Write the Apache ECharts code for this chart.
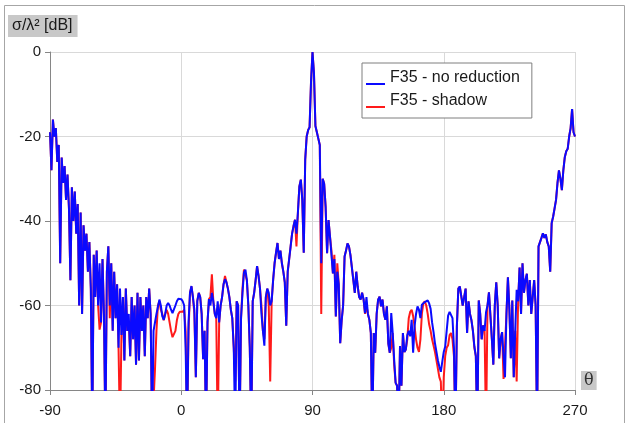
<!DOCTYPE html>
<html>
<head>
<meta charset="utf-8">
<script src="https://cdn.jsdelivr.net/npm/echarts@6/dist/echarts.min.js"></script>
<style>
  html, body { margin: 0; padding: 0; background: #ffffff; }
  #chart { width: 629px; height: 423px; }
</style>
</head>
<body>
<div id="chart"></div>
<script>
// ---- data ----
const thetaStart = -90;   // first angle, degrees
const thetaStep = 1;      // angular step, degrees
const xTicks = [-90, 0, 90, 180, 270];
const yTicks = [-80, -60, -40, -20, 0];
const seriesNames = ['F35 - no reduction', 'F35 - shadow'];

// sigma/lambda^2 [dB], theta = -90 .. 270 ; values below -80 are off-scale dips
const noReduction = [
  -19,-28,-16,-20,-18,-26,-22,-50,-25,-31,
  -27,-35,-29,-37,-54,-32,-40,-33,-43,-36,
  -60,-38,-62,-41,-47,-43,-52,-45,-56,-90,
  -48,-58,-47,-60,-50,-64,-49,-62,-90,-52,
  -46,-60,-50,-66,-52,-63,-55,-70,-56,-67,
  -58,-73,-56,-66,-62,-72,-58,-68,-60,-74,
  -57,-73,-58,-66,-60,-72,-58,-63,-56,-62,
  -90,-66,-64,-62,-62,-58.6,-60,-62.5,-63.4,-62,
  -60,-59.4,-60,-61,-61.8,-61.5,-60,-59,-58.4,-58.3,
  -58.5,-59,-60,-70,-90,-64,-57,-55.4,-58,-61,
  -77,-59,-57,-58,-62,-72.7,-66,-90,-64,-58.5,
  -60,-57,-59,-62,-63,-59,-64,-60,-58,-55,
  -53.8,-54.5,-56,-58,-61,-63,-70,-90,-59,-60,
  -90,-63,-57,-52.2,-51.5,-54,-60,-70,-90,-59,
  -57,-54,-50.7,-53,-56,-62,-66,-69.5,-58,-56,
  -57,-60,-59,-54,-50,-47.5,-45.2,-49,-47,-50,
  -52,-54.5,-64.8,-52,-49,-46,-43,-41.2,-39.7,-43,
  -38,-31.8,-30.2,-35,-47.5,-25.5,-20,-18.5,-17.8,-7,
  0,-5,-17.5,-19,-20.5,-22,-50,-30,-31.2,-36.7,
  -47.6,-39.8,-43.7,-48,-52.4,-49,-62.6,-52,-55,-68.9,
  -63.5,-60,-48.4,-47,-45.3,-46,-48,-51,-54,-57,
  -52,-55.5,-58,-58.6,-57,-58.5,-61.8,-58,-62,-63.4,
  -66.5,-90,-66.5,-71.2,-62,-58.6,-57.9,-60.2,-58.6,-62,
  -63.4,-60.2,-69,-71.2,-61.8,-66.5,-72.8,-78.3,-79,-90,
  -69.6,-79,-66.5,-71,-70.4,-67,-66,-67.3,-63.4,-71.2,
  -64.9,-62,-60.2,-61,-63,-59.8,-60,-59.2,-59,-58.8,
  -59.5,-60.8,-64,-66.3,-69,-71,-73,-74.5,-75.7,-73.3,
  -71,-69.7,-66,-62.4,-61.5,-61.2,-63,-70,-90,-65,
  -56,-55.5,-55.3,-60,-58,-56,-66.5,-59,-62,-63.5,
  -66,-69.7,-72,-90,-58.8,-62,-68,-64.7,-66,-61.6,
  -60,-56.9,-62.4,-68,-74,-60,-54.5,-60,-72.5,-68,
  -66.3,-72,-77,-62,-53.3,-60.8,-72.5,-58.8,-77,-66,
  -56.3,-59,-51,-62,-50,-57,-54,-52.5,-60,-54,
  -62,-58,-54,-60,-90,-46,-46,-44,-42.9,-44,
  -43.2,-45,-46,-52,-40.5,-39,-37,-35,-31,-28,
  -30,-32.7,-28,-24.9,-23.5,-22.9,-20,-18,-13.5,-19,
  -20
];

const shadow = [
  -19,-28,-16,-20,-18,-26,-22,-50,-25,-31,
  -27,-35,-29,-37,-54,-32,-40,-33,-43,-36,
  -60,-38,-62,-41,-47,-43,-52,-45,-56,-90,
  -48,-58,-47,-60,-65.7,-64,-49,-62,-90,-52,
  -46,-63,-50,-66,-52,-63,-55,-70,-90,-67,
  -58,-73,-56,-66,-64,-72,-58,-68,-60,-74,
  -57,-73,-58,-66,-60,-72,-58,-63,-56,-62,
  -90,-90,-75,-66,-60,-59,-61,-62,-63.5,-62,
  -61,-62,-64,-66,-67.5,-67.5,-66,-63.5,-62,-61.5,
  -61.8,-61.5,-61,-66,-90,-66,-57,-55.5,-58,-62,
  -77,-58.9,-57,-58,-62,-72.7,-66,-90,-64,-58.5,
  -58,-52.6,-59,-62,-63,-90,-64,-60,-58,-55,
  -53,-52.6,-56,-58,-61,-63,-70,-78,-59,-60,
  -90,-63,-56,-51.5,-51.5,-54,-60,-70,-90,-59,
  -57,-54,-50.7,-53,-56,-60,-66,-68,-58,-56,
  -60,-78,-59,-54,-50,-47.5,-45.2,-49,-47,-50,
  -52,-54.5,-64.8,-52,-49,-46,-43,-41.2,-39.7,-46,
  -38,-31.8,-30.2,-35,-47.5,-25.5,-20,-18.5,-17.8,-7,
  0,-5,-17.5,-19,-20.5,-22,-62,-30,-31.2,-36.7,
  -47.6,-39.8,-43.7,-47,-52.4,-48,-62.6,-50,-55,-68.9,
  -63.5,-60,-48.4,-47,-45.3,-46,-48,-51,-54,-57,
  -52,-55.5,-58,-58.6,-57,-58.5,-62,-60,-62,-63.4,
  -66.5,-90,-66.5,-71.2,-62,-58.6,-57.9,-60.2,-58.6,-62,
  -63.4,-60.2,-69,-71.2,-70,-66.5,-74,-78.3,-79,-90,
  -69.6,-79,-66.5,-71,-70.4,-68,-63,-61.5,-61,-62.5,
  -65,-68,-70,-71,-68,-62,-59.5,-59,-60,-62,
  -64.5,-66,-68,-69.5,-71,-73,-75,-77,-78,-90,
  -77,-72,-70,-69.4,-67,-66.5,-68,-72,-90,-65,
  -56,-55.5,-55.3,-60,-58,-56,-66.5,-59,-62,-63.5,
  -66,-70,-72,-90,-58.8,-62,-68,-64.7,-66,-90,
  -60,-56.9,-62.4,-68,-74,-60,-54.5,-60,-72.5,-68,
  -66.3,-77.4,-77,-62,-53.3,-60.8,-72.5,-58.8,-77,-66,
  -78,-59,-51,-62,-50,-57,-54,-52.5,-60,-54,
  -62,-58,-54,-60,-90,-46,-46,-44,-42.9,-44,
  -43.2,-45,-46,-52,-40.5,-39,-37,-35,-31,-28,
  -30,-32.7,-28,-24.9,-23.5,-22.9,-20,-18,-13.5,-19,
  -20
];

// ---- build [theta, value] pairs ----
function pairs(vals) {
  return vals.map((v, i) => [thetaStart + i * thetaStep, v]);
}

const FONT = 'Liberation Sans';
const chart = echarts.init(document.getElementById('chart'), null, { renderer: 'canvas' });

chart.setOption({
  animation: false,
  backgroundColor: '#ffffff',
  grid: { left: 50, right: 54, top: 52, bottom: 33, containLabel: false },
  legend: {
    data: seriesNames,
    orient: 'vertical',
    left: 362,
    top: 63,
    backgroundColor: '#ffffff',
    borderColor: '#7f7f7f',
    borderWidth: 1,
    padding: [6, 12, 8, 4],
    itemGap: 5,
    itemWidth: 19,
    itemHeight: 14,
    icon: 'path://M0,0 M0,12 L19,12 L19,14 L0,14 Z',
    textStyle: { fontFamily: FONT, fontSize: 16, color: '#1a1a1a', lineHeight: 18, padding: [0, 0, 0, 0] }
  },
  xAxis: {
    type: 'value',
    min: xTicks[0],
    max: xTicks[xTicks.length - 1],
    interval: 90,
    name: 'θ',
    nameLocation: 'end',
    nameGap: 6,
    nameTextStyle: {
      fontFamily: 'DejaVu Serif', fontSize: 16, color: '#333',
      backgroundColor: '#c8c8c8', padding: [2, 3, 1, 3],
      verticalAlign: 'bottom', align: 'left'
    },
    axisLine: { show: true, onZero: false, lineStyle: { color: '#868686', width: 1 } },
    axisTick: { show: true, length: 5, inside: false, lineStyle: { color: '#868686' } },
    axisLabel: { fontFamily: FONT, fontSize: 15, color: '#1a1a1a', margin: 13 },
    splitLine: { show: true, lineStyle: { color: '#d9d9d9', width: 1 } }
  },
  yAxis: {
    type: 'value',
    min: yTicks[0],
    max: yTicks[yTicks.length - 1],
    interval: 20,
    axisLine: { show: true, onZero: false, lineStyle: { color: '#868686', width: 1 } },
    axisTick: { show: true, length: 5, inside: false, lineStyle: { color: '#868686' } },
    axisLabel: { fontFamily: FONT, fontSize: 15, color: '#1a1a1a', margin: 9 },
    splitLine: { show: true, lineStyle: { color: '#d9d9d9', width: 1 } }
  },
  graphic: [
    {
      type: 'rect', silent: true, z: -1,
      shape: { x: 4.5, y: 5.5, width: 620, height: 440 },
      style: { fill: 'none', stroke: '#a6a6a6', lineWidth: 1 }
    },
    {
      type: 'text', left: 8, top: 15, z: 10,
      style: {
        text: 'σ/λ² [dB]', fontFamily: FONT, fontSize: 16, fill: '#1a1a1a',
        backgroundColor: '#c8c8c8', padding: [3, 5, 3, 4]
      }
    }
  ],
  series: [
    {
      name: seriesNames[1], type: 'line', data: pairs(shadow),
      showSymbol: false, symbol: 'none', clip: true,
      lineStyle: { color: '#ff1a1a', width: 2 }, itemStyle: { color: '#ff1a1a' }, z: 2
    },
    {
      name: seriesNames[0], type: 'line', data: pairs(noReduction),
      showSymbol: false, symbol: 'none', clip: true,
      lineStyle: { color: '#0a0aff', width: 2 }, itemStyle: { color: '#0a0aff' }, z: 3
    }
  ]
});
</script>
</body>
</html>
